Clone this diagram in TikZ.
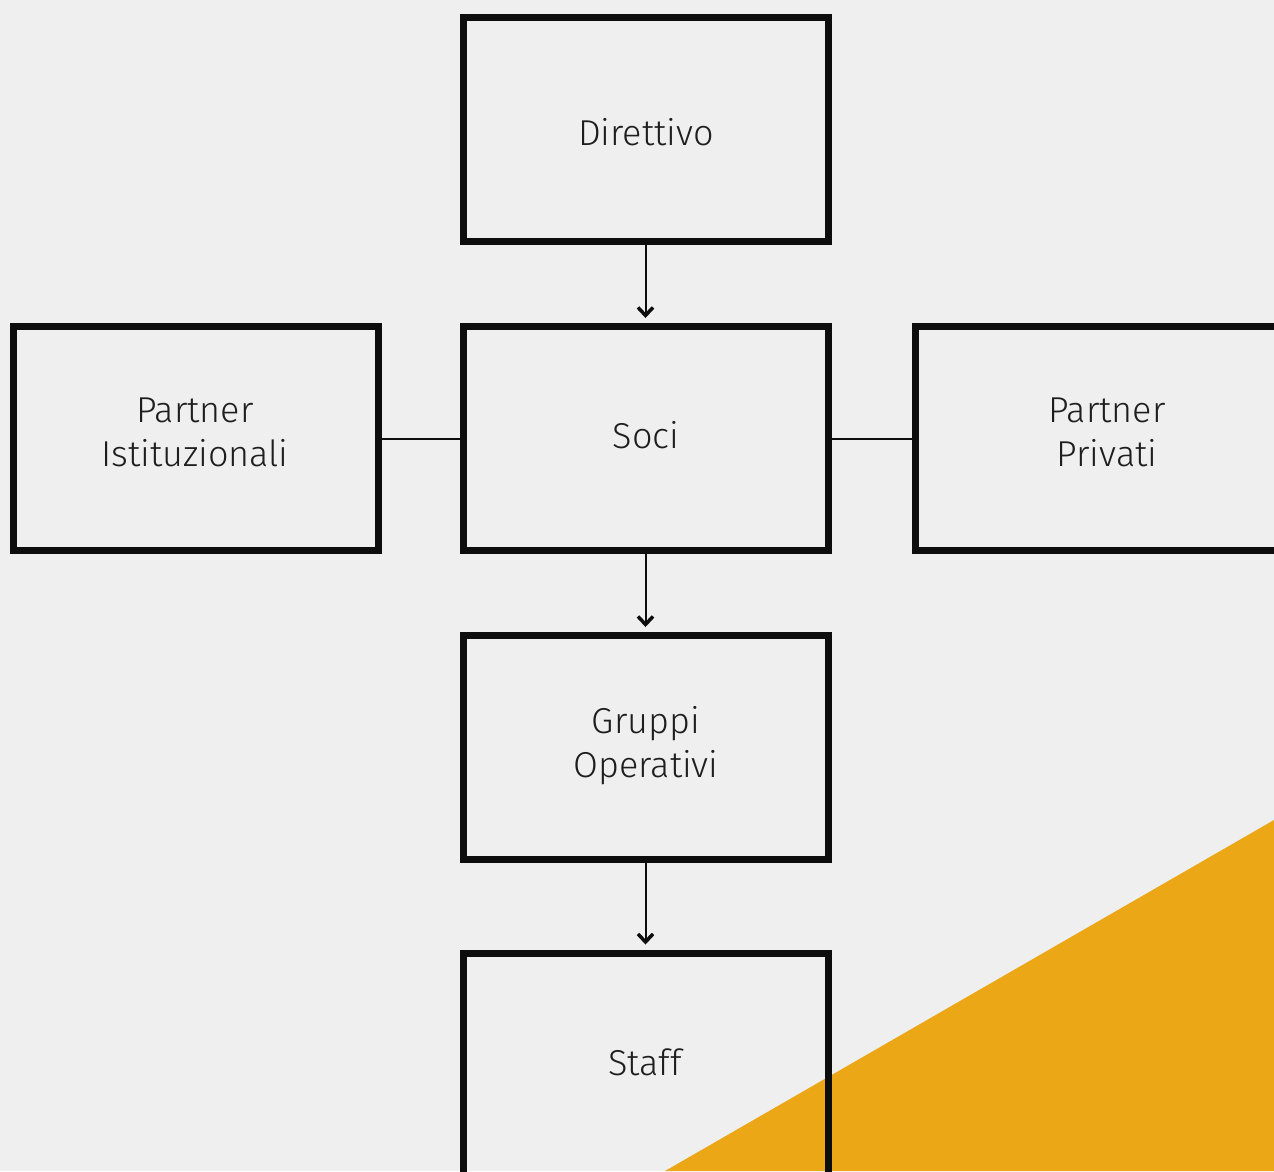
\documentclass[tikz,border=0pt]{standalone}
\usepackage{fontspec}
\setmainfont{Fira Sans}[UprightFont=* Light]
\usetikzlibrary{arrows.meta}
\definecolor{bg}{HTML}{EFEFEF}
\definecolor{ink}{HTML}{0C0D0C}
\definecolor{txt}{HTML}{1E1E1E}
\definecolor{gold}{HTML}{EBA715}
\begin{document}
\begin{tikzpicture}[x=1pt,y=-1pt,
  box/.style={draw=ink,line width=7pt,minimum width=365pt,minimum height=224pt,
    inner sep=0pt,align=center,text=txt,font=\fontsize{36}{44}\selectfont},
  lbl/.style={box,draw=none,minimum width=0pt,minimum height=0pt},
  arr/.style={draw=ink,line width=2pt,-{Straight Barb[length=8pt,width=15pt,line width=3.5pt]},shorten >=5pt},
  link/.style={draw=ink,line width=2pt}]
\useasboundingbox (0,0) rectangle (1274,1171);
\fill[bg] (0,0) rectangle (1274,1171);
\fill[gold] (665,1171) -- (1274,820) -- (1274,1171) -- cycle;
\node[box] (dir) at (645.5,129) {};
\node[box] (soci) at (645.5,438.5) {};
\node[box] (grp) at (645.5,747.5) {};
\node[box] (staff) at (645.5,1065) {};
\node[box] (pi) at (195.5,438.5) {};
\node[box,minimum width=382pt] (pp) at (1106,438.5) {};
\node[lbl] (tdir) at (646,132) {Direttivo};
\node[lbl] (tsoci) at (646,435) {Soci};
\node[lbl] (tgrp) at (646,746) {Gruppi\\Operativi};
\node[lbl] (tstaff) at (645,1062) {Staff};
\node[lbl] (tpi) at (195,432) {Partner\\Istituzionali};
\node[lbl] (tpp) at (1107,432) {Partner\\Privati};
\draw[arr] (dir.south) -- (soci.north);
\draw[arr] (soci.south) -- (grp.north);
\draw[arr] (grp.south) -- (staff.north);
\draw[link] (pi.east) -- (soci.west);
\draw[link] (soci.east) -- (pp.west);
\end{tikzpicture}
\end{document}
